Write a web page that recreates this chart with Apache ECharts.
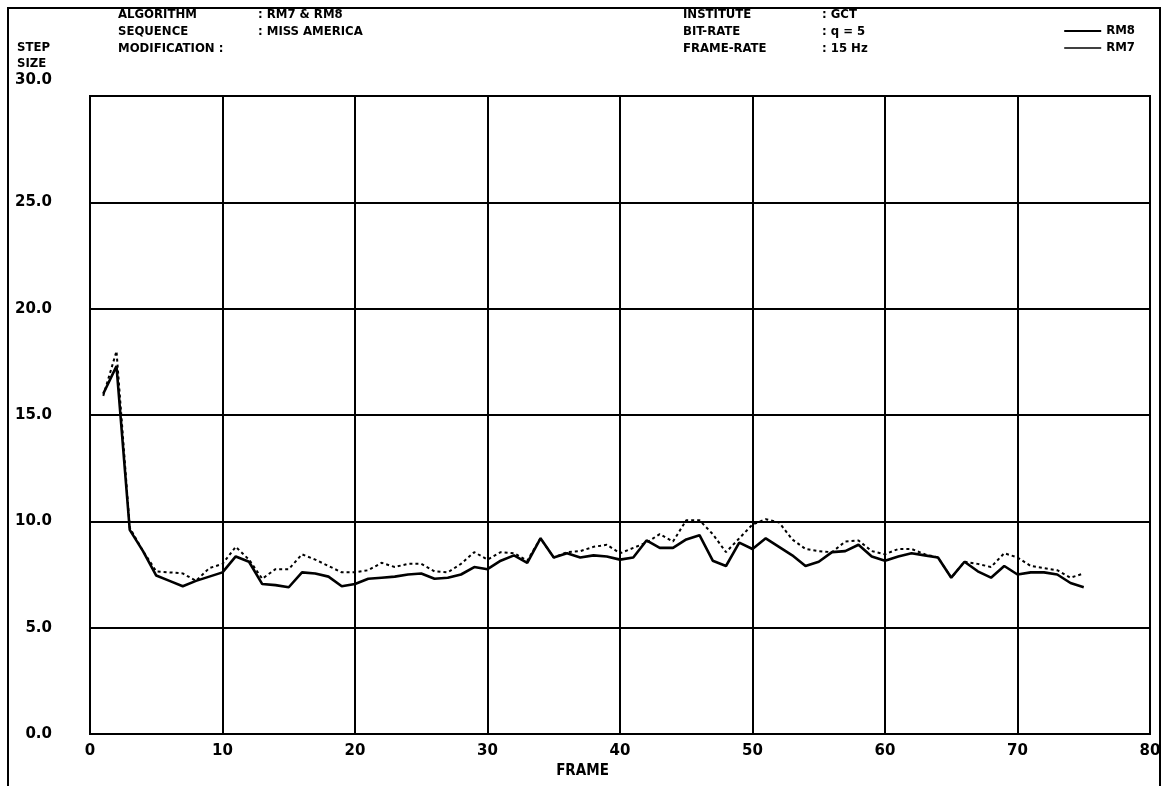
<!DOCTYPE html>
<html>
<head>
<meta charset="utf-8">
<script src="https://cdn.jsdelivr.net/npm/echarts@6/dist/echarts.min.js"></script>
<style>
html,body{margin:0;padding:0;background:#fff;}
#chart{width:1165px;height:786px;}
</style>
</head>
<body>
<div id="chart"></div>
<script>
var frames = [];
for (var f = 1; f <= 75; f++) frames.push(f);

var rm8 = [16.0,17.3,9.6,8.6,7.45,7.2,6.95,7.2,7.4,7.6,
  8.35,8.1,7.05,7.0,6.9,7.6,7.55,7.4,6.95,7.05,
  7.3,7.35,7.4,7.5,7.55,7.3,7.35,7.5,7.85,7.75,
  8.15,8.4,8.05,9.2,8.3,8.5,8.3,8.4,8.35,8.2,
  8.3,9.1,8.75,8.75,9.15,9.35,8.15,7.9,9.0,8.7,
  9.2,8.8,8.4,7.9,8.1,8.55,8.6,8.9,8.35,8.15,
  8.35,8.5,8.4,8.3,7.35,8.1,7.65,7.35,7.9,7.5,
  7.6,7.6,7.5,7.1,6.9];

var rm7 = [15.9,18.0,9.7,8.6,7.65,7.6,7.55,7.2,7.8,8.0,
  8.8,8.2,7.3,7.75,7.75,8.45,8.2,7.9,7.6,7.6,
  7.7,8.05,7.85,8.0,8.0,7.65,7.6,8.0,8.55,8.2,
  8.55,8.5,8.15,9.2,8.3,8.55,8.6,8.8,8.9,8.5,
  8.75,9.0,9.4,9.05,10.05,10.05,9.4,8.55,9.2,9.85,
  10.1,9.95,9.15,8.7,8.6,8.55,9.05,9.1,8.6,8.45,
  8.7,8.7,8.45,8.3,7.35,8.1,8.0,7.85,8.5,8.3,
  7.9,7.8,7.7,7.35,7.55];

var xTicks = [0,10,20,30,40,50,60,70,80];
var yTicks = [0,5,10,15,20,25,30];

var headerLeft = [["ALGORITHM", ": RM7 & RM8"], ["SEQUENCE", ": MISS AMERICA"], ["MODIFICATION :", ""]];
var headerRight = [["INSTITUTE", ": GCT"], ["BIT-RATE", ": q = 5"], ["FRAME-RATE", ": 15 Hz"]];

var FONT = '"DejaVu Sans Condensed", "DejaVu Sans", sans-serif';
var NUMFONT = '"DejaVu Sans", sans-serif';

function pairs(vals){ return frames.map(function(f,i){ return [f, vals[i]]; }); }

var graphics = [];
graphics.push({type:'rect', shape:{x:8,y:8,width:1152,height:800}, style:{fill:null, stroke:'#000', lineWidth:2}, silent:true});
function txt(x,y,s){ graphics.push({type:'text', x:x, y:y, style:{text:s, font:'bold 13px '+FONT, fill:'#000', textVerticalAlign:'middle'}, silent:true}); }
headerLeft.forEach(function(r,i){ txt(118, 15+17*i, r[0]); txt(258, 15+17*i, r[1]); });
headerRight.forEach(function(r,i){ txt(683, 15+17*i, r[0]); txt(822, 15+17*i, r[1]); });
txt(17, 48, "STEP");
txt(17, 64, "SIZE");

var chart = echarts.init(document.getElementById('chart'));
chart.setOption({
  animation:false,
  backgroundColor:'#fff',
  grid:{left:90, right:15, top:96, bottom:52, show:true, borderColor:'#000', borderWidth:2},
  legend:{
    orient:'vertical', right:30, top:24, padding:0, itemWidth:37, itemHeight:2, itemGap:3,
    textStyle:{fontFamily:FONT, fontWeight:'bold', fontSize:13, color:'#000', lineHeight:14},
    data:[
      {name:'RM8', icon:'rect', itemStyle:{color:'#000'}},
      {name:'RM7', icon:'path://M0,0 L37,0 L37,1.3 L0,1.3 Z', itemStyle:{color:'#000'}}
    ]
  },
  xAxis:{
    type:'value', min:xTicks[0], max:xTicks[xTicks.length-1], interval:10,
    name:'FRAME', nameLocation:'middle', nameGap:30,
    nameTextStyle:{fontFamily:FONT, fontWeight:'bold', fontSize:15, color:'#000', padding:[0,75,0,0]},
    axisLine:{show:false}, axisTick:{show:false},
    axisLabel:{fontFamily:NUMFONT, fontWeight:'bold', fontSize:15, color:'#000', margin:10},
    splitLine:{show:true, lineStyle:{color:'#000', width:2}}
  },
  yAxis:{
    type:'value', min:yTicks[0], max:yTicks[yTicks.length-1], interval:5,
    axisLine:{show:false}, axisTick:{show:false},
    axisLabel:{
      fontFamily:NUMFONT, fontWeight:'bold', fontSize:15, color:'#000', margin:38,
      formatter:function(v){ return v === 30 ? '{t|' + v.toFixed(1) + '}' : v.toFixed(1); },
      rich:{t:{fontFamily:NUMFONT, fontWeight:'bold', fontSize:15, color:'#000', padding:[0,0,32,0]}}
    },
    splitLine:{show:true, lineStyle:{color:'#000', width:2}}
  },
  series:[
    {name:'RM8', type:'line', data:pairs(rm8), symbol:'none', lineStyle:{color:'#000', width:2.6}, z:3},
    {name:'RM7', type:'line', data:pairs(rm7), symbol:'none', lineStyle:{color:'#000', width:2, type:[3,3]}, z:2}
  ],
  graphic:graphics
});
</script>
</body>
</html>
